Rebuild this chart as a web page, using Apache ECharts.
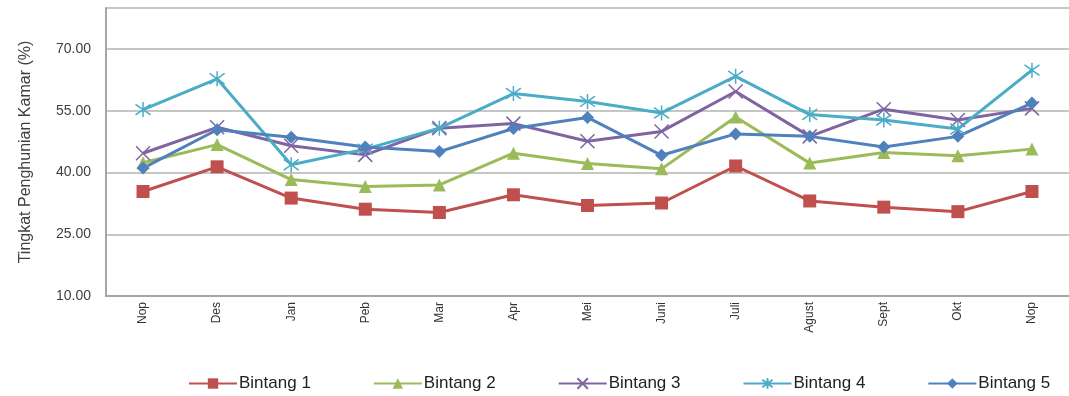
<!DOCTYPE html>
<html><head><meta charset="utf-8">
<script src="https://cdn.jsdelivr.net/npm/echarts@6/dist/echarts.min.js"></script>
<style>html,body{margin:0;padding:0;background:#fff}#c{width:1069px;height:396px}</style>
</head><body><div id="c"></div>
<script>
const categories = ["Nop","Des","Jan","Peb","Mar","Apr","Mei","Juni","Juli","Agust","Sept","Okt","Nop"];
const bintang1 = [35.4,41.4,33.8,31.1,30.3,34.6,32.0,32.6,41.6,33.1,31.6,30.5,35.4];
const bintang2 = [42.4,46.8,38.3,36.6,37.0,44.7,42.2,40.9,53.5,42.3,44.9,44.1,45.7];
const bintang3 = [44.7,51.0,46.5,44.3,50.8,51.9,47.6,50.0,59.7,48.8,55.4,52.8,55.6];
const bintang4 = [55.3,62.8,41.9,45.7,50.8,59.2,57.3,54.5,63.4,54.1,52.8,50.6,64.9];
const bintang5 = [41.1,50.4,48.6,46.2,45.1,50.7,53.4,44.2,49.4,48.8,46.2,48.8,56.9];
const seriesNames = ["Bintang 1","Bintang 2","Bintang 3","Bintang 4","Bintang 5"];
const yTicks = [10,25,40,55,70];

const colors = ["#c0504d","#9bbb59","#8064a2","#4bacc6","#4f81bd"];
const symbols = [
  "rect","triangle",
  "path://M0,0L10,10M10,0L0,10",
  "path://M0,0L10,10M10,0L0,10M5,-2L5,12",
  "diamond"
];
const sizes = [13,13,14,15,13];
const datas = [bintang1,bintang2,bintang3,bintang4,bintang5];
const series = seriesNames.map((n,i)=>{
  const stroke = i===2||i===3;
  return {
    name:n, type:"line", data:datas[i], symbol:symbols[i], symbolSize:sizes[i],
    lineStyle:{color:colors[i], width:3},
    itemStyle: stroke ? {color:"rgba(0,0,0,0)", borderColor:colors[i], borderWidth:1.5, opacity:1}
                      : {color:colors[i]},
    emphasis:{disabled:true}, animation:false
  };
});
const chart = echarts.init(document.getElementById("c"));
chart.setOption({
  animation:false,
  grid:{left:106, top:8, width:970, bottom:100},
  legend:{
    data:seriesNames, left:183, top:370, width:880, itemWidth:48, itemHeight:13, itemGap:62,
    textStyle:{fontFamily:"Liberation Sans, Arial, sans-serif", fontSize:17, color:"#222", padding:[0,0,0,-3]}
  },
  xAxis:{
    type:"category", data:categories, boundaryGap:true,
    axisLine:{show:true, lineStyle:{color:"#a6a6a6", width:2}},
    axisTick:{show:false},
    axisLabel:{rotate:90, interval:0, fontFamily:"Liberation Sans, Arial, sans-serif", fontSize:12, color:"#333", margin:6}
  },
  yAxis:{
    type:"value", min:10, max:80, interval:15,
    name:"Tingkat Penghunian Kamar (%)", nameLocation:"middle", nameGap:72, nameRotate:90,
    nameTextStyle:{fontFamily:"Liberation Sans, Arial, sans-serif", fontSize:16, color:"#404040"},
    axisLine:{show:true, lineStyle:{color:"#a6a6a6", width:2}},
    axisTick:{show:false},
    splitLine:{show:true, lineStyle:{color:"#b3b3b3", width:1.5}},
    axisLabel:{showMaxLabel:false, fontFamily:"Liberation Sans, Arial, sans-serif", fontSize:14, color:"#404040", margin:15,
      formatter:v=> yTicks.includes(v) ? v.toFixed(2) : ""}
  },
  series:series
});
</script></body></html>
